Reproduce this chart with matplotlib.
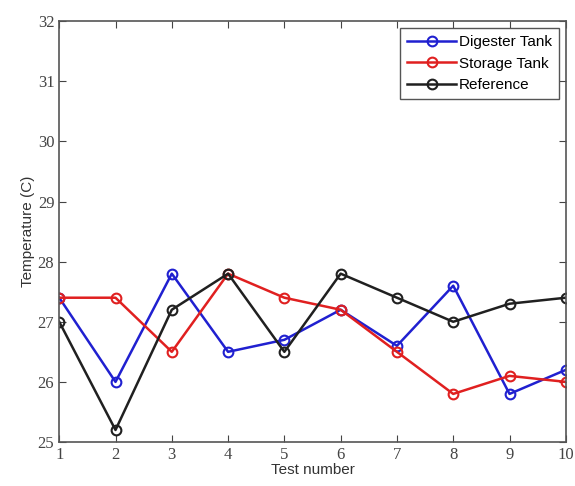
import numpy as np
import matplotlib
matplotlib.use("Agg")
import matplotlib.pyplot as plt

# Values
test_number = [1, 2, 3, 4, 5, 6, 7, 8, 9, 10]
digester = [27.4, 26.0, 27.8, 26.5, 26.7, 27.2, 26.6, 27.6, 25.8, 26.2]
storage = [27.4, 27.4, 26.5, 27.8, 27.4, 27.2, 26.5, 25.8, 26.1, 26.0]
reference = [27.0, 25.2, 27.2, 27.8, 26.5, 27.8, 27.4, 27.0, 27.3, 27.4]

fig = plt.figure(figsize=(5.75, 4.86), dpi=100)
ax = fig.add_axes([0.103, 0.0905, 0.881, 0.866])

ax.plot(test_number, digester, color="#2020d0", lw=1.8, marker="o", ms=7,
        mfc="none", mew=1.5, label="Digester Tank")
ax.plot(test_number, storage, color="#e02020", lw=1.8, marker="o", ms=7,
        mfc="none", mew=1.5, label="Storage Tank")
ax.plot(test_number, reference, color="#202020", lw=1.8, marker="o", ms=7,
        mfc="none", mew=1.5, label="Reference")

ax.set_xlim(1, 10)
ax.set_ylim(25, 32)
ax.set_xticks(test_number)
ax.set_yticks(np.arange(25, 33, 1))
ax.tick_params(direction="in", top=True, right=True, length=5, color="#444444")
for lbl in ax.get_xticklabels() + ax.get_yticklabels():
    lbl.set_family("Liberation Serif")
    lbl.set_fontsize(12)
    lbl.set_color("#444444")
for s in ax.spines.values():
    s.set_color("#555555")
    s.set_linewidth(1.2)

ax.set_xlabel("Test number", family="Liberation Sans", fontsize=11, color="#333333", labelpad=0)
ax.set_ylabel("Temperature (C)", family="Liberation Sans", fontsize=11, color="#333333", labelpad=2)

leg = ax.legend(loc="upper right", fancybox=False, framealpha=1, edgecolor="#555555",
                prop={"family": "Liberation Sans", "size": 11}, borderaxespad=0.45,
                handlelength=3.2, labelspacing=0.5, handletextpad=0.2, borderpad=0.45)
leg.get_frame().set_linewidth(1.0)

fig.savefig("out.png", dpi=100)
